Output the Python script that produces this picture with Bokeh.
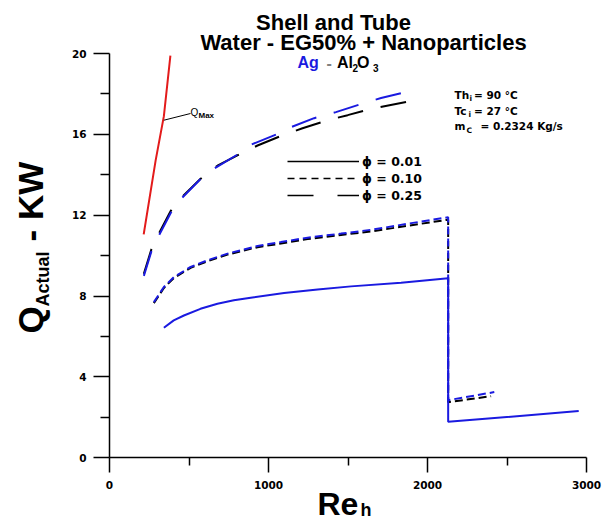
import math
from bokeh.plotting import figure
from bokeh.models import (Range1d, FixedTicker, Label, Legend, LegendItem,
                          ColumnDataSource)
from bokeh.embed import file_html
from bokeh.resources import INLINE

# ---------------- data ----------------
re_qmax = [215, 290, 342, 383]
q_max = [11.05, 14.7, 16.9, 19.9]

# phi = 0.25 (long dash)
re_ag_25 = [216, 263, 311, 384, 437, 573, 636, 805, 878, 1067, 1140, 1287, 1424, 1582, 1708, 1865]
q_ag_25 = [9.0, 10.2, 11.0, 12.1, 12.7, 13.8, 14.2, 15.0, 15.45, 16.05, 16.35, 16.8, 17.1, 17.5, 17.8, 18.1]
re_al_25 = [216, 263, 311, 384, 437, 573, 679, 815, 931, 1088, 1214, 1372, 1498, 1655, 1865]
q_al_25 = [9.1, 10.3, 11.1, 12.2, 12.75, 13.8, 14.45, 15.0, 15.45, 15.95, 16.3, 16.7, 16.95, 17.28, 17.6]

# phi = 0.10 (short dash)
re_ag_10 = [279, 342, 405, 510, 616, 742, 931, 1078, 1246, 1456, 1665, 1876, 2130, 2130, 2420]
q_ag_10 = [7.70, 8.45, 8.94, 9.44, 9.77, 10.1, 10.48, 10.67, 10.89, 11.09, 11.3, 11.58, 11.9, 2.85, 3.25]
re_al_10 = [279, 342, 405, 510, 616, 742, 931, 1078, 1246, 1456, 1665, 1876, 2130, 2130, 2400]
q_al_10 = [7.65, 8.4, 8.9, 9.4, 9.72, 10.05, 10.42, 10.6, 10.82, 11.02, 11.22, 11.48, 11.78, 2.75, 3.05]

# phi = 0.01 (solid)
re_ag_01 = [342, 404, 468, 572, 679, 782, 888, 1098, 1309, 1519, 1834, 2130, 2130, 2951]
q_ag_01 = [6.43, 6.80, 7.04, 7.37, 7.62, 7.79, 7.92, 8.15, 8.33, 8.48, 8.66, 8.88, 1.78, 2.31]

x_ticks = [0, 1000, 2000, 3000]
x_minor = [500, 1500, 2500]
x_tick_labels = ["0", "1000", "2000", "3000"]
y_ticks = [0, 4, 8, 12, 16, 20]
y_minor = [2, 6, 10, 14, 18]
y_tick_labels = ["0", "4", "8", "12", "16", "20"]
legend_labels = ["\u03d5 = 0.01", "\u03d5 = 0.10", "\u03d5 = 0.25"]

BLUE = "#1a1ae0"
RED = "#e31b1b"

# ---------------- geometry: frame covers whole canvas ----------------
W, H = 606, 522
X0, SX = 109.0, 477.0 / 3000.0     # pixel of Re=0, pixels per unit
Y0, SY = 457.3, 404.3 / 20.0       # pixel of Q=0, pixels per unit


def dx(px):
    return (px - X0) / SX


def dy(py):
    return (Y0 - py) / SY


p = figure(width=W, height=H, output_backend="svg", toolbar_location=None,
           x_range=Range1d(dx(0), dx(W)), y_range=Range1d(dy(H), dy(0)),
           min_border=0, min_border_left=0, min_border_right=0,
           min_border_top=0, min_border_bottom=0)
p.title.visible = False
p.outline_line_color = None
p.grid.visible = False
p.background_fill_color = "white"
p.border_fill_color = "white"

p.xaxis.fixed_location = 0
p.yaxis.fixed_location = 0
p.xaxis.bounds = (x_ticks[0], x_ticks[-1])
p.yaxis.bounds = (y_ticks[0], y_ticks[-1])
p.xaxis.ticker = FixedTicker(ticks=x_ticks, minor_ticks=x_minor)
p.yaxis.ticker = FixedTicker(ticks=y_ticks, minor_ticks=y_minor)
p.xaxis.major_label_overrides = {t: s for t, s in zip(x_ticks, x_tick_labels)}
p.yaxis.major_label_overrides = {t: s for t, s in zip(y_ticks, y_tick_labels)}

for ax in (p.xaxis[0], p.yaxis[0]):
    ax.axis_line_color = "black"
    ax.axis_line_width = 1.5
    ax.major_tick_line_color = "black"
    ax.minor_tick_line_color = "black"
    ax.major_tick_line_width = 1.5
    ax.minor_tick_line_width = 1.5
    ax.major_tick_in = 0
    ax.minor_tick_in = 0
    ax.major_label_text_font = "DejaVu Sans"
    ax.major_label_text_font_style = "bold"
    ax.major_label_text_font_size = "10.5px"
    ax.major_label_text_color = "black"
p.xaxis.major_tick_out = 15
p.xaxis.minor_tick_out = 8
p.xaxis.major_label_standoff = 8
p.yaxis.major_tick_out = 16
p.yaxis.minor_tick_out = 9
p.yaxis.major_label_standoff = 7

# ---------------- curves ----------------
p.line(re_qmax, q_max, line_color=RED, line_width=2)
p.line(re_al_25, q_al_25, line_color="black", line_width=2, line_dash="26 18")
p.line(re_ag_25, q_ag_25, line_color=BLUE, line_width=2, line_dash="26 18")
p.line(re_al_10, q_al_10, line_color="black", line_width=2, line_dash="8 4")
p.line(re_ag_10, q_ag_10, line_color=BLUE, line_width=2, line_dash="8 4")
p.line(re_ag_01, q_ag_01, line_color=BLUE, line_width=2)


def lab(px, py, text, size, font="Liberation Sans", style="bold",
        color="black", align="left", angle=0.0):
    # px, py: wanted baseline position in page pixels; Bokeh anchors the
    # text lower than the alphabetic baseline, so compensate.
    shift = 0.34 * size + 1.0
    if angle == 0.0:
        py = py - shift
    else:
        px = px - shift
    p.add_layout(Label(x=dx(px), y=dy(py), text=text, text_font=font,
                       text_font_style=style, text_font_size=f"{size}px",
                       text_color=color, text_align=align,
                       text_baseline="alphabetic", angle=angle))


# QMax leader and label
p.segment(x0=[re_qmax[2]], y0=[q_max[2] - 0.2], x1=[dx(190)], y1=[dy(113)],
          line_color="black", line_width=1)
lab(190, 116.5, "Q", 10, style="normal")
lab(198, 119, "Max", 8)

# titles
lab(333, 30, "Shell and Tube", 22, align="center")
lab(363, 50, "Water - EG50% + Nanoparticles", 22, align="center")
lab(297, 68.5, "Ag", 16, color=BLUE)
lab(326, 68.5, "-", 16, color="#808080")
lab(336.5, 68.5, "Al", 16)
lab(352, 72, "2", 10)
lab(356.5, 68.5, "O", 16)
lab(372.5, 72, "3", 10)

# conditions
F2 = "DejaVu Sans"
lab(454, 99, "Th", 10.5, font=F2)
lab(469, 101.5, "i", 7.5, font=F2)
lab(473.5, 99, "= 90 \u00b0C", 10.5, font=F2)
lab(454, 115, "Tc", 10.5, font=F2)
lab(468, 117.5, "i", 7.5, font=F2)
lab(473.5, 115, "= 27 \u00b0C", 10.5, font=F2)
lab(454, 130, "m", 10.5, font=F2)
lab(466, 134, "C", 7.5, font=F2)
lab(480, 130, "= 0.2324 Kg/s", 10.5, font=F2)

# axis titles
lab(43, 333, "Q", 35, angle=math.pi / 2)
lab(50, 306, "Actual", 18, angle=math.pi / 2)
lab(43, 241, "- KW", 35, angle=math.pi / 2)
lab(317, 515, "Re", 32)
lab(360, 517, "h", 18)

# ---------------- legend ----------------
items = []
for lbl, dash in zip(legend_labels, ["solid", "7 5", "26 24"]):
    src = ColumnDataSource(data=dict(x=[float("nan")], y=[float("nan")]))
    r = p.line("x", "y", source=src, line_color="black", line_width=1.5,
               line_dash=dash)
    items.append(LegendItem(label=lbl, renderers=[r]))
legend = Legend(items=items, location=(287, H - 203), padding=0, margin=0,
                spacing=1, glyph_width=72, glyph_height=16, label_height=16,
                label_standoff=3, border_line_alpha=0, background_fill_alpha=0,
                label_text_font="DejaVu Sans", label_text_font_style="bold",
                label_text_font_size="12.5px", label_text_color="black")
p.add_layout(legend)

open("out.html", "w").write(file_html(p, INLINE))
